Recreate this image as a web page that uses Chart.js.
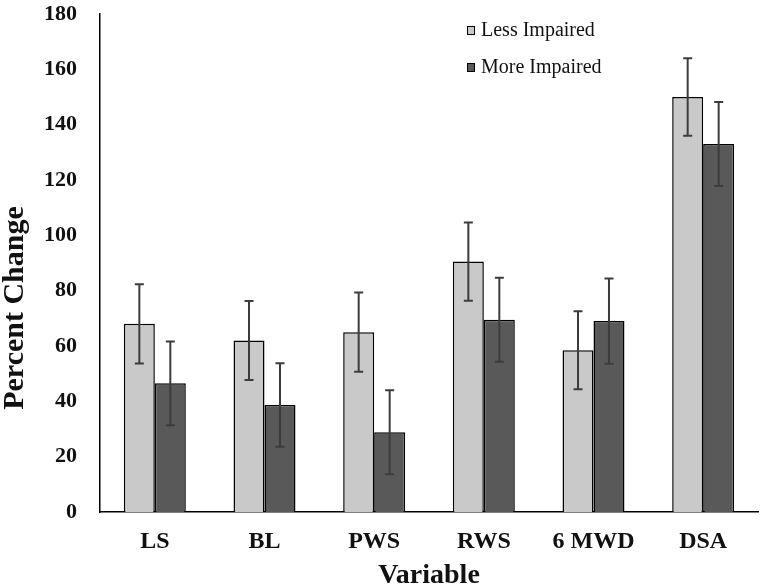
<!DOCTYPE html>
<html>
<head>
<meta charset="utf-8">
<script src="https://cdn.jsdelivr.net/npm/chart.js@4/dist/chart.umd.min.js"></script>
<style>
html,body{margin:0;padding:0;background:#fff;}
#c{display:block;}
</style>
</head>
<body>
<canvas id="c" width="760" height="588"></canvas>
<script>
const categories = ['LS', 'BL', 'PWS', 'RWS', '6 MWD', 'DSA'];
const seriesNames = ['Less Impaired', 'More Impaired'];
const lessImpaired = [68, 62, 65, 90.5, 58.5, 150];
const moreImpaired = [46.5, 38.7, 28.8, 69.5, 69, 133];
const lessImpairedErr = [14.3, 14.3, 14.3, 14.1, 14.1, 14];
const moreImpairedErr = [15.1, 15.1, 15.2, 15.2, 15.4, 15.2];
const yTicks = [0, 20, 40, 60, 80, 100, 120, 140, 160, 180];

const SERIF = '"Liberation Serif", "Times New Roman", serif';

const errorBarPlugin = {
  id: 'errorBars',
  afterDatasetsDraw(chart) {
    const ctx = chart.ctx;
    const yScale = chart.scales.y;
    ctx.save();
    ctx.strokeStyle = '#3c3c3c';
    ctx.lineWidth = 2;
    chart.data.datasets.forEach((ds, di) => {
      const meta = chart.getDatasetMeta(di);
      meta.data.forEach((bar, i) => {
        const v = ds.data[i];
        const e = ds.errors[i];
        const x = bar.x;
        const yt = yScale.getPixelForValue(v + e);
        const yb = yScale.getPixelForValue(v - e);
        const cap = 4.5;
        ctx.beginPath();
        ctx.moveTo(x, yt); ctx.lineTo(x, yb);
        ctx.moveTo(x - cap, yt); ctx.lineTo(x + cap, yt);
        ctx.moveTo(x - cap, yb); ctx.lineTo(x + cap, yb);
        ctx.stroke();
      });
    });
    ctx.restore();
  }
};

const legendPlugin = {
  id: 'insideLegend',
  afterDraw(chart) {
    const ctx = chart.ctx;
    ctx.save();
    ctx.font = '20px ' + SERIF;
    ctx.textBaseline = 'middle';
    ctx.textAlign = 'left';
    const ys = [30, 67];
    chart.data.datasets.forEach((ds, di) => {
      const y = ys[di];
      ctx.fillStyle = ds.backgroundColor;
      ctx.fillRect(467, y - 4, 8, 9);
      ctx.strokeStyle = '#000';
      ctx.lineWidth = 1;
      ctx.strokeRect(467.5, y - 3.5, 7, 8);
      ctx.fillStyle = '#111';
      ctx.fillText(ds.label, 481, y + 1);
    });
    ctx.restore();
  }
};

new Chart(document.getElementById('c'), {
  type: 'bar',
  data: {
    labels: categories,
    datasets: [
      {
        label: seriesNames[0],
        data: lessImpaired,
        errors: lessImpairedErr,
        backgroundColor: '#c9c9c9',
        borderColor: '#000',
        borderWidth: 1.5,
        categoryPercentage: 0.565,
        barPercentage: 1.0
      },
      {
        label: seriesNames[1],
        data: moreImpaired,
        errors: moreImpairedErr,
        backgroundColor: '#595959',
        borderColor: '#000',
        borderWidth: 1.5,
        categoryPercentage: 0.565,
        barPercentage: 1.0
      }
    ]
  },
  options: {
    responsive: false,
    animation: false,
    devicePixelRatio: 1,
    layout: { padding: { top: 14, right: 2, left: 0, bottom: 0 } },
    plugins: {
      legend: { display: false },
      tooltip: { enabled: false }
    },
    scales: {
      x: {
        grid: { display: false, drawTicks: false },
        border: { display: true, color: '#000', width: 1.5 },
        ticks: {
          color: '#111',
          padding: 15,
          font: { family: SERIF, size: 24, weight: 'bold' }
        },
        title: {
          display: true,
          text: 'Variable',
          color: '#111',
          padding: 0,
          font: { family: SERIF, size: 28, weight: 'bold', lineHeight: 0.9 }
        },
        afterFit(scale) {
          scale.height = 76;
          scale.paddingLeft = 0; scale.paddingRight = 0;
          scale.paddingTop = 0; scale.paddingBottom = 0;
        }
      },
      y: {
        min: 0,
        max: 180,
        afterBuildTicks(scale) { scale.ticks = yTicks.map(v => ({ value: v })); },
        grid: { display: false, drawTicks: false },
        border: { display: true, color: '#000', width: 1.5 },
        ticks: {
          color: '#111',
          padding: 23,
          font: { family: SERIF, size: 22, weight: 'bold' }
        },
        title: {
          display: true,
          text: 'Percent Change            ',
          color: '#111',
          padding: 0,
          font: { family: SERIF, size: 30, weight: 'bold', lineHeight: 1 }
        },
        afterFit(scale) {
          scale.width = 100;
          scale.paddingTop = 0; scale.paddingBottom = 0;
          scale.paddingLeft = 0; scale.paddingRight = 0;
        }
      }
    }
  },
  plugins: [errorBarPlugin, legendPlugin]
});
</script>
</body>
</html>
